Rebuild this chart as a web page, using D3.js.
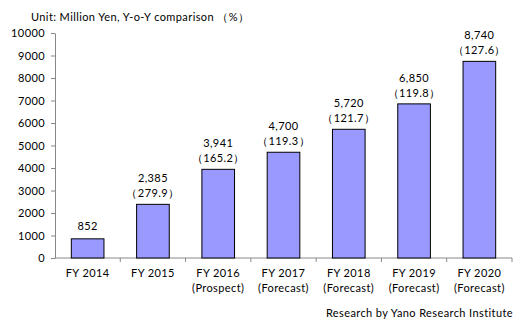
<!DOCTYPE html>
<html>
<head>
<meta charset="utf-8">
<script src="https://cdn.jsdelivr.net/npm/d3@7/dist/d3.min.js"></script>
<style>
  html, body { margin: 0; padding: 0; background: #fff; }
  svg { display: block; }
  text { font-family: "Lato", "Open Sans", sans-serif; fill: #000; letter-spacing: 0.4px; }
</style>
</head>
<body>
<svg id="chart" width="528" height="327"></svg>
<script>
// Market size by fiscal year
const years = ["FY 2014", "FY 2015", "FY 2016", "FY 2017", "FY 2018", "FY 2019", "FY 2020"];
const subLabels = ["", "", "(Prospect)", "(Forecast)", "(Forecast)", "(Forecast)", "(Forecast)"];
const values = [852, 2385, 3941, 4700, 5720, 6850, 8740];
const yoy = [null, 279.9, 165.2, 119.3, 121.7, 119.8, 127.6];
const yTicks = [0, 1000, 2000, 3000, 4000, 5000, 6000, 7000, 8000, 9000, 10000];

const svg = d3.select("#chart");
const plot = { left: 55, right: 512, top: 33, bottom: 258 };

const x = d3.scaleBand().domain(years).range([plot.left, plot.right]).paddingInner(0).paddingOuter(0);
const y = d3.scaleLinear().domain([0, 10000]).range([plot.bottom, plot.top]);
const barW = x.bandwidth() * 0.5;

// Y axis
const yAxis = svg.append("g")
  .attr("transform", `translate(${plot.left},0)`)
  .call(d3.axisLeft(y).tickValues(yTicks).tickSize(4).tickSizeOuter(0).tickPadding(6).tickFormat(d3.format("d")));
yAxis.select(".domain").attr("stroke", "#888");
yAxis.selectAll(".tick line").attr("stroke", "#888");
yAxis.selectAll(".tick text").style("font-size", "11px").style("font-family", "Lato, sans-serif").attr("fill", "#000");

// X axis baseline with category separators
const xg = svg.append("g");
xg.append("line").attr("x1", plot.left).attr("x2", plot.right)
  .attr("y1", plot.bottom).attr("y2", plot.bottom).attr("stroke", "#888");
years.forEach(d => {
  xg.append("line")
    .attr("x1", x(d) + x.bandwidth()).attr("x2", x(d) + x.bandwidth())
    .attr("y1", plot.bottom).attr("y2", plot.bottom + 4).attr("stroke", "#888");
});

// Bars
svg.append("g").selectAll("rect").data(values).join("rect")
  .attr("x", (d, i) => x(years[i]) + (x.bandwidth() - barW) / 2)
  .attr("y", d => y(d))
  .attr("width", barW)
  .attr("height", d => y(0) - y(d))
  .attr("fill", "#9999FF")
  .attr("stroke", "#000")
  .attr("stroke-width", 1);

// Value and year-over-year labels
const fmt = d3.format(",");
values.forEach((v, i) => {
  const cx = x(years[i]) + x.bandwidth() / 2;
  const topY = y(v);
  if (yoy[i] === null) {
    svg.append("text").attr("x", cx).attr("y", topY - 9)
      .attr("text-anchor", "middle").style("font-size", "11px").text(fmt(v));
  } else {
    svg.append("text").attr("x", cx).attr("y", topY - 22)
      .attr("text-anchor", "middle").style("font-size", "11px").text(fmt(v));
    svg.append("text").attr("x", cx).attr("y", topY - 7)
      .attr("text-anchor", "middle").style("font-size", "11px").text("（" + yoy[i].toFixed(1) + "）");
  }
});

// Category labels
years.forEach((d, i) => {
  const cx = x(d) + x.bandwidth() / 2;
  svg.append("text").attr("x", cx).attr("y", plot.bottom + 19)
    .attr("text-anchor", "middle").style("font-size", "11px").text(d);
  if (subLabels[i]) {
    svg.append("text").attr("x", cx).attr("y", plot.bottom + 34)
      .attr("text-anchor", "middle").style("font-size", "11px").text(subLabels[i]);
  }
});

// Unit note and source
svg.append("text").attr("x", 31).attr("y", 21).style("font-size", "11px")
  .text("Unit: Million Yen, Y-o-Y comparison （%）");
svg.append("text").attr("x", 513).attr("y", 317).attr("text-anchor", "end").style("font-size", "11px")
  .text("Research by Yano Research Institute");
</script>
</body>
</html>
